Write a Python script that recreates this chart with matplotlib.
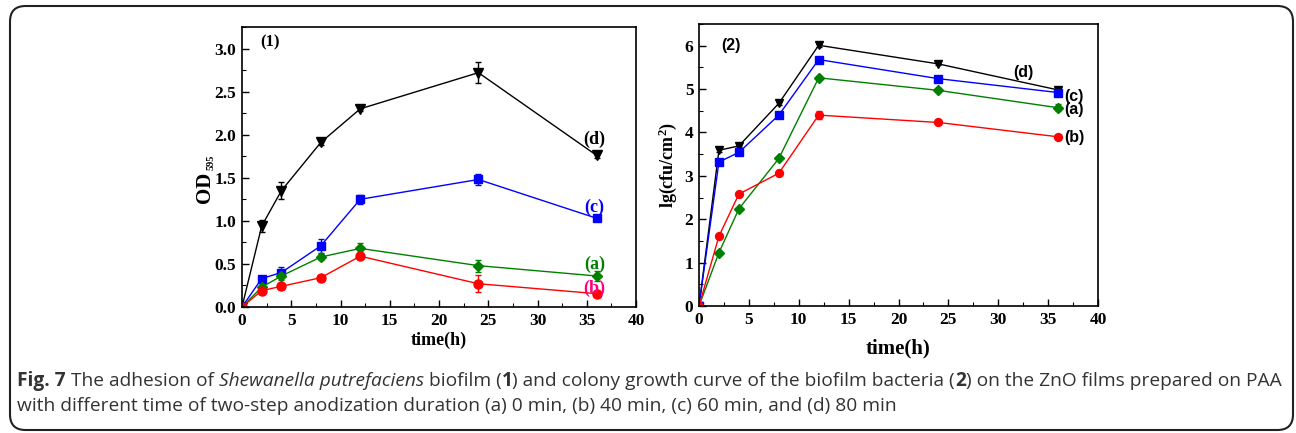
import matplotlib
matplotlib.use("Agg")
import matplotlib.pyplot as plt
from matplotlib.patches import FancyBboxPatch
from matplotlib.ticker import MultipleLocator

plt.rcParams["mathtext.fontset"] = "custom"
plt.rcParams["mathtext.rm"] = "Liberation Serif:bold"
plt.rcParams["mathtext.bf"] = "Liberation Serif:bold"
plt.rcParams["mathtext.it"] = "Liberation Serif:bold:italic"

# ---------------- data ----------------
time_h = [0, 2, 4, 8, 12, 24, 36]

od_a = [0.0, 0.23, 0.36, 0.58, 0.68, 0.48, 0.36]
od_b = [0.0, 0.19, 0.24, 0.34, 0.59, 0.27, 0.155]
od_c = [0.0, 0.33, 0.40, 0.71, 1.25, 1.48, 1.03]
od_d = [0.0, 0.94, 1.35, 1.91, 2.30, 2.72, 1.76]
od_a_err = [0.0, 0.03, 0.05, 0.04, 0.06, 0.07, 0.06]
od_b_err = [0.0, 0.03, 0.03, 0.02, 0.03, 0.10, 0.02]
od_c_err = [0.0, 0.03, 0.06, 0.08, 0.05, 0.06, 0.02]
od_d_err = [0.0, 0.07, 0.10, 0.03, 0.02, 0.12, 0.03]

lg_a = [0.0, 1.23, 2.24, 3.40, 5.26, 4.97, 4.57]
lg_b = [0.0, 1.61, 2.58, 3.06, 4.40, 4.23, 3.90]
lg_c = [0.0, 3.32, 3.54, 4.40, 5.68, 5.24, 4.92]
lg_d = [0.0, 3.59, 3.69, 4.67, 6.01, 5.58, 4.98]
lg_a_err = [0.0, 0.03, 0.03, 0.03, 0.03, 0.03, 0.08]
lg_b_err = [0.0, 0.03, 0.03, 0.03, 0.10, 0.03, 0.03]
lg_c_err = [0.0, 0.03, 0.03, 0.03, 0.03, 0.03, 0.03]
lg_d_err = [0.0, 0.03, 0.03, 0.03, 0.03, 0.03, 0.03]

series_names = ["(a)", "(b)", "(c)", "(d)"]
colors = {"(a)": "#008000", "(b)": "#ff0000", "(c)": "#0000ff", "(d)": "#000000"}
markers = {"(a)": "D", "(b)": "o", "(c)": "s", "(d)": "v"}
msizes = {"(a)": 5.5, "(b)": 6.5, "(c)": 6, "(d)": 7}

SERIF = ["Liberation Serif", "DejaVu Serif"]

fig = plt.figure(figsize=(12.96, 4.33), dpi=100)

# outer rounded frame
frame = FancyBboxPatch((10 / 1296, 3 / 433), 1283 / 1296, 424 / 433,
                       boxstyle="round,pad=0,rounding_size=0.012",
                       transform=fig.transFigure, fill=False,
                       edgecolor="#222222", linewidth=1.5, mutation_aspect=3.0)
fig.patches.append(frame)


def style_axes(ax, xmax, ymax, ymajor, yminor, fmt):
    ax.set_xlim(0, xmax)
    ax.set_ylim(0, ymax)
    ax.xaxis.set_major_locator(MultipleLocator(5))
    ax.xaxis.set_minor_locator(MultipleLocator(2.5))
    ax.yaxis.set_major_locator(MultipleLocator(ymajor))
    ax.yaxis.set_minor_locator(MultipleLocator(yminor))
    ax.tick_params(which="both", direction="in", top=False, right=False)
    ax.tick_params(which="major", length=5, width=1.0, pad=4)
    ax.tick_params(which="minor", length=3, width=0.8)
    for s in ax.spines.values():
        s.set_linewidth(1.2)
    ax.yaxis.set_major_formatter(matplotlib.ticker.FormatStrFormatter(fmt))
    for lab in ax.get_xticklabels() + ax.get_yticklabels():
        lab.set_fontfamily(SERIF)
        lab.set_fontweight("bold")
        lab.set_fontsize(12.5)


# ---------------- panel 1 ----------------
ax1 = fig.add_axes([242 / 1296, 1 - 307 / 433, 394 / 1296, 280 / 433])
od = {"(a)": (od_a, od_a_err), "(b)": (od_b, od_b_err),
      "(c)": (od_c, od_c_err), "(d)": (od_d, od_d_err)}
for name in ["(d)", "(c)", "(a)", "(b)"]:
    vals, errs = od[name]
    ax1.errorbar(time_h, vals, yerr=errs, color=colors[name], marker=markers[name],
                 markersize=msizes[name], linewidth=1.0, capsize=2.5,
                 elinewidth=1.0, capthick=1.0)
style_axes(ax1, 40, 3.25, 0.5, 0.25, "%.1f")
ax1.set_xlabel("time(h)", fontfamily=SERIF, fontweight="bold", fontsize=13, labelpad=2)
# y label "OD" with a small subscript "595"
fig.text(205 / 1296, 1 - 187 / 433, "OD", rotation=90, ha="center", va="center",
         fontfamily=SERIF, fontweight="bold", fontsize=15)
fig.text(211 / 1296, 1 - 162 / 433, "595", rotation=90, ha="center", va="center",
         fontfamily=SERIF, fontweight="bold", fontsize=7.5)
ax1.text(1.9, 3.07, "(1)", fontfamily=SERIF, fontweight="bold", fontsize=12, va="center")
lab1 = {"(d)": (1.95, "#000000"), "(c)": (1.16, "#0000ff"),
        "(a)": (0.50, "#008000"), "(b)": (0.22, "#ff0080")}
for name, (yv, col) in lab1.items():
    ax1.text(35.8, yv, name, color=col, fontfamily=SERIF, fontweight="bold",
             fontsize=13, ha="center", va="center")

# ---------------- panel 2 ----------------
ax2 = fig.add_axes([699 / 1296, 1 - 306 / 433, 399 / 1296, 282 / 433])
lg = {"(a)": (lg_a, lg_a_err), "(b)": (lg_b, lg_b_err),
      "(c)": (lg_c, lg_c_err), "(d)": (lg_d, lg_d_err)}
for name in ["(d)", "(c)", "(a)", "(b)"]:
    vals, errs = lg[name]
    ax2.errorbar(time_h, vals, yerr=errs, color=colors[name], marker=markers[name],
                 markersize=msizes[name] - 0.8, linewidth=1.0, capsize=2.5,
                 elinewidth=1.0, capthick=1.0)
style_axes(ax2, 40, 6.5, 1, 0.5, "%d")
ax2.set_xlabel("time(h)", fontfamily=SERIF, fontweight="bold", fontsize=15, labelpad=8)
ax2.set_ylabel(r"lg(cfu/cm$^{2}$)", fontfamily=SERIF, fontweight="bold",
               fontsize=13, labelpad=4)
ax2.text(2.2, 6.0, "(2)", fontfamily="Liberation Sans", fontweight="bold", fontsize=11.5,
         va="center")
lab2 = {"(d)": (32.5, 5.38), "(c)": (37.6, 4.83), "(a)": (37.6, 4.53), "(b)": (37.6, 3.88)}
for name, (xv, yv) in lab2.items():
    ax2.text(xv, yv, name, color="#000000", fontfamily="Liberation Sans", fontweight="bold",
             fontsize=11.5, ha="center", va="center")

# ---------------- caption ----------------
CAP_FONT = "Open Sans"
CAP_COL = "#333333"
line1 = [("Fig. 7", "bold", "normal"), (" The adhesion of ", "normal", "normal"),
         ("Shewanella putrefaciens", "normal", "italic"), (" biofilm (", "normal", "normal"),
         ("1", "bold", "normal"),
         (") and colony growth curve of the biofilm bacteria (", "normal", "normal"),
         ("2", "bold", "normal"), (") on the ZnO films prepared on PAA", "normal", "normal")]
line2 = [("with different time of two-step anodization duration (a) 0 min, (b) 40 min, "
          "(c) 60 min, and (d) 80 min", "normal", "normal")]

fig.canvas.draw()
renderer = fig.canvas.get_renderer()


def draw_line(parts, x0_px, y_px, size):
    x = x0_px
    texts = []
    for txt, w, st in parts:
        t = fig.text(x / 1296, 1 - y_px / 433, txt, fontfamily=CAP_FONT, fontsize=size,
                     fontweight=w, fontstyle=st, color=CAP_COL, va="baseline", ha="left")
        bb = t.get_window_extent(renderer=renderer)
        x = bb.x1
        texts.append(t)
    return texts, x - x0_px


# fit first line to the reference width (about 1266 px)
trial, width = draw_line(line1, 17, 386, 11.6)
for t in trial:
    t.remove()
cap_size = 11.6 * 1266 / width
draw_line(line1, 17, 386, cap_size)
draw_line(line2, 17, 411, cap_size)

fig.savefig("out.png", dpi=100)
